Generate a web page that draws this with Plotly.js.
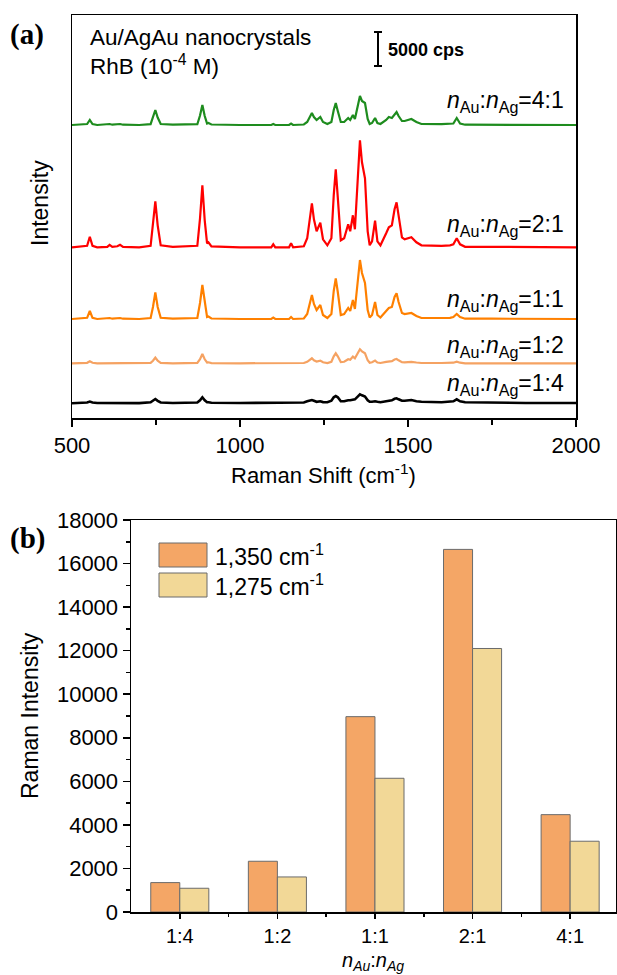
<!DOCTYPE html>
<html>
<head>
<meta charset="utf-8">
<script src="https://cdn.plot.ly/plotly-3.0.1.min.js"></script>
<style>html,body{margin:0;padding:0;background:#fff;}#chart{width:617px;height:975px;}</style>
</head>
<body>
<div id="chart"></div>
<script>
// ---------- data: panel (a) Raman spectra (intensity in a.u., 34 a.u. = 5000 cps) ----------
const ramanShift = [
  500,530,545,553,561,575,
  605,612,620,635,643,652,
  700,734,741,748,755,764,
  800,873,881,888,895,902,906,915,
  1000,1093,1099,1105,1146,1152,1158,
  1190,1200,1209,1214,1220,1228,1239,1247,1260,
  1272,1279,1285,1291,1300,1310,1317,1322,1328,1336,1342,1351,1357,1363,1372,1380,1386,1393,1402,1409,1418,
  1435,1443,1452,1460,1466,1472,1482,1490,1510,1525,1540,
  1600,1625,1635,1645,1655,1670,
  1750,1850,2000
];
const spec_1_4 = [
  0,0.5,0.8,1.7,0.8,0.3,
  0.3,0.8,0.3,0.3,0.8,0.3,
  0.2,1,2.5,4.3,2.5,0.8,
  0.3,0.8,3,6,3,1,1,0.5,
  0.3,0.3,0.8,0.3,0.5,1,0.5,
  0.8,2,3,3.3,2.5,1.5,2,1.2,1,
  2.5,6,7.3,6,2,2,2.8,3,3,4,4,7,9,8,6.7,3,1.5,1.5,2,1.5,1,
  2,2.5,3,4.5,5,4,2.5,2.5,3.3,2,1.5,
  1,1.5,2,4,2,1,
  0.5,0.3,0.3
];
const spec_1_2 = [
  0,0,0.5,2,0.5,0,
  0,0.3,0,0,0.3,0,
  0,0.5,2.6,5.7,2.6,0.5,
  0,0.5,4.2,9.3,4,0.8,1,0.2,
  0,0,0.5,0,0,0.5,0,
  0.3,1.5,3.5,5,3,1.8,2.7,1,0.3,
  1.5,7,10,7,1.2,1.5,3,4,3.5,6.7,5,10,14,12,10,3,0.5,1,2.7,0.8,0.3,
  1.5,2,2.2,3.8,4.3,3,1.2,1,1.5,0.8,0.3,
  0.3,0.5,0.6,1.7,0.6,0,
  0,0,0
];
const spec_1_1 = [
  0,0.5,1.2,8,1.2,0,
  0.3,1,0.3,0.5,1,0.3,
  0,1,12,26.7,12,1.2,
  0.3,1,16,34,15,2,2.5,0.5,
  0,0,1.5,0,0,2,0,
  0.5,5,16,24,15,9,14,4,1,
  5,28,40.7,27,4,5,9,11,8,19,10,38,59,46,36,9,1.5,4,17,4,1.5,
  8,11,12,22,25.7,17,6,5,6,3,1,
  1,1.2,2,5,2,0.3,
  0.3,0,0
];
const spec_2_1 = [
  0,0.5,1.5,10.6,1.5,0,
  0.5,2.5,0.5,1,2.5,0.5,
  0,1.5,22,46,22,2,
  0.5,1.5,29,62,27,4,5,1,
  0,0,3,0,0,4,0,
  1,9,30,44,28,16,24.6,8,2,
  9,52,78,50,7,9,19,23,16,32,18,70,107,85,69,16,2,6,26.6,6,2,
  14,20,22,38,45,30,10,8,10,5,2,
  1.5,2,3,9,3,0.5,
  0.5,0,0
];
const spec_4_1 = [
  0,0.3,1,5,1,0,
  0.3,1,0.3,0.5,1,0.3,
  0,0.8,7.5,15,7.5,1,
  0.3,0.8,9.5,20,9,1.5,2,0.5,
  0,0,1,0,0,1.5,0,
  0.5,3,8,12,8,5,8,3,1,
  3,15,22,14,3,3,6,7,5,10,6,20,29,24,22,6,1,2,7,2,1,
  5,8,7,11,13,9,4,4,6,3,1,
  0.8,1,1.5,7,1.5,0.3,
  0.3,0,0
];
const spectraLabels = ['1:4','1:2','1:1','2:1','4:1'];

// ---------- data: panel (b) bar chart ----------
const ratios = ['1:4','1:2','1:1','2:1','4:1'];
const int1350 = [1350, 2330, 8970, 16650, 4470];
const int1275 = [1090, 1610, 6140, 12100, 3250];
const yTicks = [0,2000,4000,6000,8000,10000,12000,14000,16000,18000];

// ---------- layout helpers ----------
const W = 617, H = 975;
const px = x => x / W;
const py = y => 1 - y / H;

const spectra = [spec_1_4, spec_1_2, spec_1_1, spec_2_1, spec_4_1];
const offsets = [14.7, 54.7, 99, 170.7, 293];          // vertical stacking
const colors  = ['#000000', '#F5A262', '#FF8000', '#FF0000', '#1E8C1E'];
const widths  = [2.6, 2.2, 2.2, 2.2, 2.2];
const labelY  = [384, 347, 300, 225, 102];

const traces = spectra.map((s, i) => ({
  type: 'scatter', mode: 'lines',
  x: ramanShift,
  y: s.map(v => v + offsets[i]),
  xaxis: 'x', yaxis: 'y',
  line: {color: colors[i], width: widths[i]},
  name: 'n_Au:n_Ag=' + spectraLabels[i],
  hoverinfo: 'skip'
}));

const idx = ratios.map((_, i) => i);
traces.push({
  type: 'bar', x: idx, y: int1350, xaxis: 'x2', yaxis: 'y2',
  name: '1,350 cm-1',
  marker: {color: '#F4A666', line: {color: '#6b6b6b', width: 1}}
});
traces.push({
  type: 'bar', x: idx, y: int1275, xaxis: 'x2', yaxis: 'y2',
  name: '1,275 cm-1',
  marker: {color: '#F2D897', line: {color: '#6b6b6b', width: 1}}
});

const FONT = 'Liberation Sans, Arial, sans-serif';
const ann = (x, y, text, size, opts = {}) => Object.assign({
  xref: 'paper', yref: 'paper', x: px(x), y: py(y), text: text,
  showarrow: false, xanchor: 'center', yanchor: 'middle',
  font: {family: FONT, size: size, color: '#000'}
}, opts);

const annotations = [
  ann(27, 34, '<b>(a)</b>', 29, {font: {family: 'Liberation Serif, Times New Roman, serif', size: 29, color: '#000'}}),
  ann(27, 538, '<b>(b)</b>', 29, {font: {family: 'Liberation Serif, Times New Roman, serif', size: 29, color: '#000'}}),
  ann(88, 38, 'Au/AgAu nanocrystals', 22.5, {xanchor: 'left'}),
  ann(88, 65, 'RhB (10<sup>-4</sup> M)', 22.5, {xanchor: 'left'}),
  ann(386, 50, '<b>5000 cps</b>', 18, {xanchor: 'left'}),
  ann(40, 203, 'Intensity', 23, {textangle: -90}),
  ann(324, 474, 'Raman Shift (cm<sup>-1</sup>)', 22),
  ann(30, 716, 'Raman Intensity', 23, {textangle: -90}),
  ann(373, 961, '<i>n</i><sub><i>Au</i></sub>:<i>n</i><sub><i>Ag</i></sub>', 20),
  ann(213, 555, '1,350 cm<sup>-1</sup>', 23, {xanchor: 'left'}),
  ann(213, 585, '1,275 cm<sup>-1</sup>', 23, {xanchor: 'left'})
];
spectraLabels.forEach((lab, i) => {
  annotations.push(ann(566, labelY[i],
    '<i>n</i><sub>Au</sub>:<i>n</i><sub>Ag</sub>=' + lab, 23, {xanchor: 'right'}));
});

const shapes = [
  // scale bar 5000 cps
  {type: 'line', xref: 'paper', yref: 'paper', x0: px(378), x1: px(378), y0: py(32), y1: py(66), line: {color: '#000', width: 2}},
  {type: 'line', xref: 'paper', yref: 'paper', x0: px(374), x1: px(382), y0: py(32), y1: py(32), line: {color: '#000', width: 2}},
  {type: 'line', xref: 'paper', yref: 'paper', x0: px(374), x1: px(382), y0: py(66), y1: py(66), line: {color: '#000', width: 2}},
  // legend swatches
  {type: 'rect', xref: 'paper', yref: 'paper', x0: px(159), x1: px(207), y0: py(567), y1: py(543), fillcolor: '#F4A666', line: {color: '#6b6b6b', width: 1}},
  {type: 'rect', xref: 'paper', yref: 'paper', x0: px(159), x1: px(207), y0: py(597), y1: py(573), fillcolor: '#F2D897', line: {color: '#6b6b6b', width: 1}}
];

const axisCommon = {
  showline: true, linecolor: '#000', linewidth: 1.5, mirror: true,
  showgrid: false, zeroline: false, fixedrange: true,
  tickcolor: '#000', tickwidth: 1.5,
  tickfont: {family: FONT, size: 22, color: '#000'}
};

const layout = {
  width: W, height: H,
  margin: {l: 0, r: 0, t: 0, b: 0},
  paper_bgcolor: '#fff', plot_bgcolor: '#fff',
  showlegend: false,
  font: {family: FONT, color: '#000'},
  barmode: 'group', bargap: 0.405, bargroupgap: 0,
  xaxis: Object.assign({}, axisCommon, {
    domain: [px(72), px(576)], anchor: 'y', range: [500, 2000],
    tickmode: 'linear', tick0: 500, dtick: 500,
    ticks: 'outside', ticklen: 7,
    minor: {tickmode: 'linear', tick0: 500, dtick: 250, ticks: 'outside', ticklen: 5, tickwidth: 1.5, tickcolor: '#000'}
  }),
  yaxis: Object.assign({}, axisCommon, {
    domain: [py(418), py(15)], anchor: 'x', range: [0, 403],
    showticklabels: false, ticks: ''
  }),
  xaxis2: Object.assign({}, axisCommon, {
    domain: [px(131), px(616)], anchor: 'y2', range: [-0.5, 4.47],
    tickmode: 'array', tickvals: idx, ticktext: ratios,
    tickfont: {family: FONT, size: 20, color: '#000'},
    ticks: 'outside', ticklen: 5,
    minor: {tickmode: 'array', tickvals: [0.5, 1.5, 2.5, 3.5], ticks: 'outside', ticklen: 3, tickwidth: 1.5, tickcolor: '#000'}
  }),
  yaxis2: Object.assign({}, axisCommon, {
    domain: [py(912), py(520)], anchor: 'x2', range: [0, 18000],
    tickmode: 'array', tickvals: yTicks, tickformat: 'd',
    ticks: 'outside', ticklen: 7,
    minor: {tickmode: 'linear', tick0: 0, dtick: 1000, ticks: 'outside', ticklen: 4, tickwidth: 1.5, tickcolor: '#000'}
  }),
  annotations: annotations,
  shapes: shapes
};

Plotly.newPlot('chart', traces, layout, {staticPlot: true, displayModeBar: false});
</script>
</body>
</html>
